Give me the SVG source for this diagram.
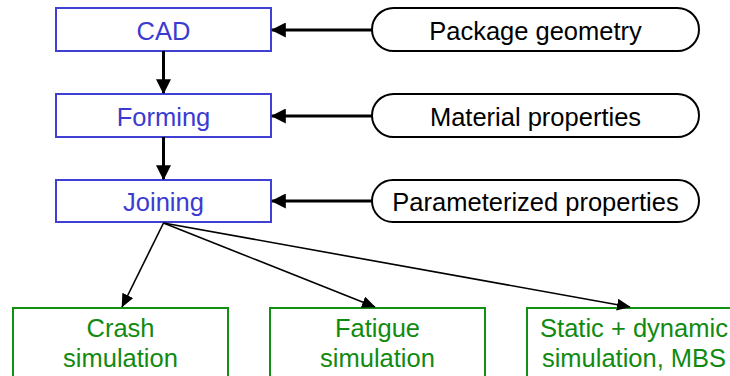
<svg xmlns="http://www.w3.org/2000/svg" width="730" height="376" viewBox="0 0 730 376">
<defs>
<style>
text{font-family:"Liberation Sans",Arial,sans-serif;font-size:25.5px;text-anchor:middle}
.b rect{fill:#fff;stroke:#4040d4;stroke-width:2}
.b text{fill:#3b3bd0}
.p rect{fill:#fff;stroke:#000;stroke-width:2}
.p text{fill:#000}
.g rect{fill:#fff;stroke:#129012;stroke-width:2}
.g text{fill:#118a11}
.thick{stroke:#000;stroke-width:3;fill:none}
.thin{stroke:#000;stroke-width:1.6;fill:none}
</style>
<marker id="ah" markerWidth="5" markerHeight="5" refX="4.6" refY="2.5" orient="auto" markerUnits="strokeWidth" viewBox="0 0 5 5">
<path d="M0,0 L5,2.5 L0,5 z" fill="#000"/>
</marker>
<marker id="ah2" markerWidth="8.5" markerHeight="7.5" refX="8.1" refY="3.75" orient="auto" markerUnits="strokeWidth" viewBox="0 0 8.5 7.5">
<path d="M0,0 L8.5,3.75 L0,7.5 z" fill="#000"/>
</marker>
</defs>
<g id="cad" class="b"><rect x="56" y="8" width="215" height="43"/><text x="163.5" y="39.5">CAD</text></g>
<g id="forming" class="b"><rect x="56" y="94" width="215" height="43"/><text x="163.5" y="125.5">Forming</text></g>
<g id="joining" class="b"><rect x="56" y="180" width="215" height="42"/><text x="163.5" y="210.5">Joining</text></g>
<g id="pkg" class="p"><rect x="372" y="8" width="327" height="43" rx="21.5"/><text x="535.5" y="39.5">Package geometry</text></g>
<g id="mat" class="p"><rect x="372" y="94" width="327" height="43" rx="21.5"/><text x="535.5" y="125.5">Material properties</text></g>
<g id="par" class="p"><rect x="372" y="180" width="327" height="42" rx="21"/><text x="535.5" y="210.5">Parameterized properties</text></g>
<g id="crash" class="g"><rect x="13" y="308" width="215" height="80"/><text x="120.5" y="337">Crash</text><text x="120.5" y="367">simulation</text></g>
<g id="fatigue" class="g"><rect x="270" y="308" width="215" height="80"/><text x="377.5" y="337">Fatigue</text><text x="377.5" y="367">simulation</text></g>
<g id="static" class="g"><rect x="527" y="308" width="215" height="80"/><text x="634" y="337">Static + dynamic</text><text x="634" y="367">simulation, MBS</text></g>
<g id="connectors">
<line class="thick" x1="372" y1="30" x2="272" y2="30" marker-end="url(#ah)"/>
<line class="thick" x1="372" y1="116" x2="272" y2="116" marker-end="url(#ah)"/>
<line class="thick" x1="372" y1="201" x2="272" y2="201" marker-end="url(#ah)"/>
<line class="thick" x1="163.5" y1="51" x2="163.5" y2="93" marker-end="url(#ah)"/>
<line class="thick" x1="163.5" y1="137" x2="163.5" y2="179" marker-end="url(#ah)"/>
<line class="thin" x1="163.5" y1="223" x2="122" y2="307" marker-end="url(#ah2)"/>
<line class="thin" x1="163.5" y1="223" x2="375" y2="307" marker-end="url(#ah2)"/>
<line class="thin" x1="163.5" y1="223" x2="630" y2="307" marker-end="url(#ah2)"/>
</g>
</svg>
